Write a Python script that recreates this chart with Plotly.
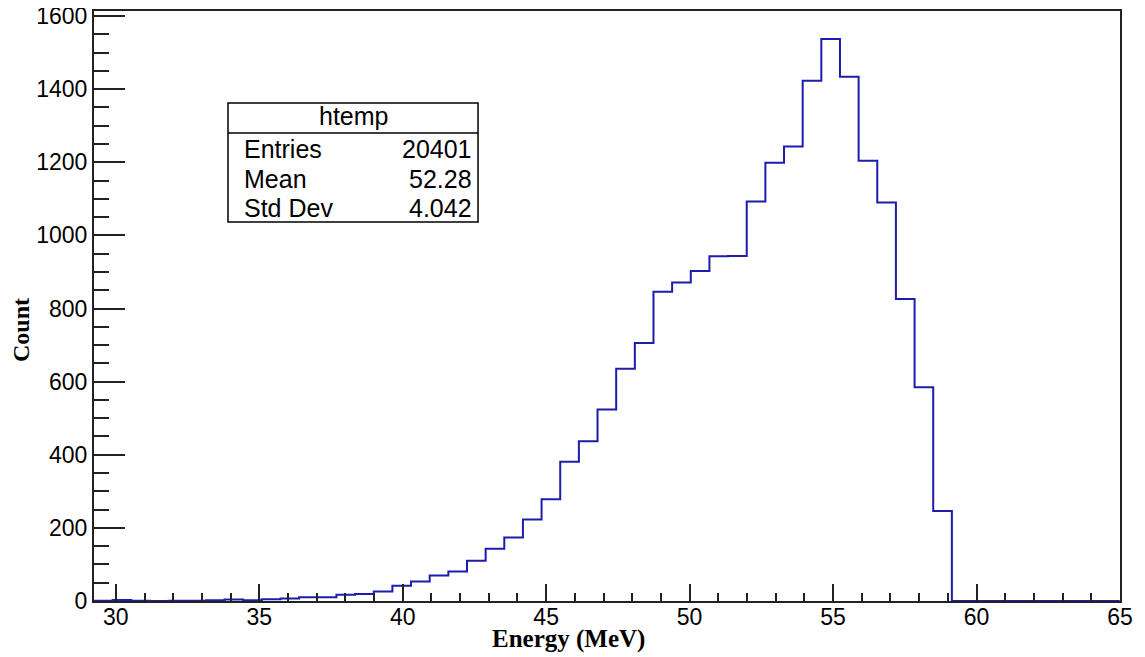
import plotly.graph_objects as go

# htemp histogram, 55 bins of 0.65 MeV starting at 29.24
bin_lo = 29.24
bin_width = 0.65
counts = [1, 3, 1, 0, 1, 1, 2, 4, 2, 5,
          7, 10, 10, 17, 19, 26, 42, 53, 70, 81,
          110, 143, 174, 223, 278, 381, 437, 524, 635, 706,
          846, 871, 903, 943, 944, 1093, 1199, 1243, 1423, 1537,
          1434, 1204, 1090, 826, 585, 246, 0, 0, 0, 0,
          0, 0, 0, 0, 0]

stat_names = ['Entries', 'Mean', 'Std Dev']
stat_values = ['20401', '52.28', '4.042']

edges = [bin_lo + k * bin_width for k in range(len(counts) + 1)]
x_max = 65.0
y_max = max(counts) * 1.05

fig = go.Figure()
fig.add_trace(go.Scatter(
    x=edges,
    y=counts + [counts[-1]],
    mode='lines',
    line=dict(color='#1c1cae', width=2, shape='hv'),
    hoverinfo='skip',
    showlegend=False
))

tick_font = dict(family='Liberation Sans, Arial, sans-serif', size=23, color='black')
title_font = dict(family='Liberation Serif, Times New Roman, serif', size=24, color='black')

fig.update_xaxes(
    range=[bin_lo, x_max],
    tickvals=[30, 35, 40, 45, 50, 55, 60, 65],
    ticks='inside', ticklen=17, tickwidth=2, tickcolor='#222',
    minor=dict(ticks='inside', ticklen=8, tickwidth=2, tickcolor='#222', dtick=1, tick0=30),
    showline=True, linecolor='#222', linewidth=2, mirror=True,
    showgrid=False, zeroline=False, automargin=False,
    ticklabelstandoff=-6, ticklabeloverflow='allow',
    tickfont=tick_font
)
fig.update_yaxes(
    range=[0, y_max],
    tickvals=[0, 200, 400, 600, 800, 1000, 1200, 1400, 1600],
    ticks='inside', ticklen=31, tickwidth=2, tickcolor='#222',
    minor=dict(ticks='inside', ticklen=15, tickwidth=2, tickcolor='#222', dtick=50, tick0=0),
    showline=True, linecolor='#222', linewidth=2, mirror=True,
    showgrid=False, zeroline=False, automargin=False,
    ticklabeloverflow='allow',
    tickfont=tick_font
)

# stats box in the upper left
box_x0, box_x1 = 0.1306, 0.3743
box_y0, box_y1 = 0.6424, 0.8441
fig.add_shape(type='rect', xref='paper', yref='paper',
              x0=box_x0, x1=box_x1, y0=box_y0, y1=box_y1,
              line=dict(color='black', width=1.5), fillcolor='white')
fig.add_shape(type='line', xref='paper', yref='paper',
              x0=box_x0, x1=box_x1, y0=0.7932, y1=0.7932,
              line=dict(color='black', width=1.5))

stat_font = dict(family='Liberation Sans, Arial, sans-serif', size=25, color='black')
fig.add_annotation(text='htemp', xref='paper', yref='paper', x=(box_x0 + box_x1) / 2, y=0.8225,
                   xanchor='center', yanchor='middle', showarrow=False, font=stat_font)
stat_rows_y = [0.766, 0.715, 0.666]
for name, val, yy in zip(stat_names, stat_values, stat_rows_y):
    fig.add_annotation(text=name, xref='paper', yref='paper', x=0.144, y=yy,
                       xanchor='left', yanchor='middle', showarrow=False, font=stat_font)
    fig.add_annotation(text=val, xref='paper', yref='paper', x=0.370, y=yy,
                       xanchor='right', yanchor='middle', showarrow=False, font=stat_font)

# axis titles placed as in the original picture
fig.add_annotation(text='<b>Energy (MeV)</b>', xref='paper', yref='paper',
                   x=(568 - 94) / 1026, y=-(639 - 601) / 590,
                   xanchor='center', yanchor='middle', showarrow=False,
                   font=dict(family=title_font['family'], size=25, color='black'))
fig.add_annotation(text='<b>Count</b>', xref='paper', yref='paper',
                   x=-(94 - 21) / 1026, y=(601 - 330) / 590, textangle=-90,
                   xanchor='center', yanchor='middle', showarrow=False, font=title_font)

# page body keeps an 8px margin, so the figure is 8px smaller and margins shifted
fig.update_layout(
    width=1137, height=649,
    margin=dict(l=86, r=25, t=3, b=56),
    plot_bgcolor='white',
    paper_bgcolor='white'
)

fig.write_html("out.html")
